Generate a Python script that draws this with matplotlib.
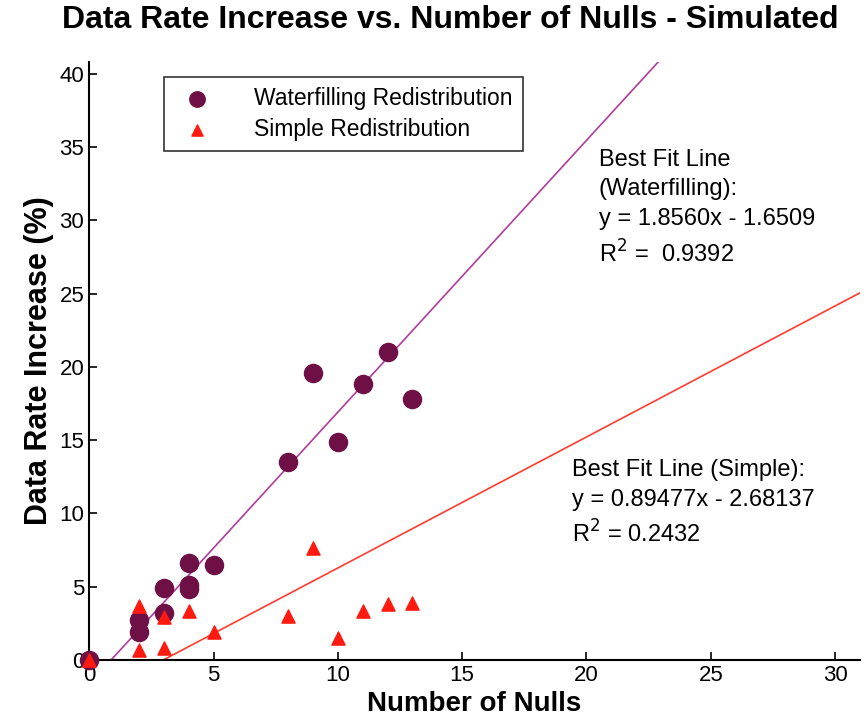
import numpy as np
import matplotlib.pyplot as plt

plt.rcParams['font.family'] = ['Liberation Sans', 'DejaVu Sans']

# Waterfilling redistribution (circles)
wf_nulls = [0, 2, 2, 3, 3, 4, 4, 4, 5, 8, 9, 10, 11, 12, 13]
wf_rate = [0.0, 2.7, 1.9, 4.9, 3.2, 6.6, 5.1, 4.8, 6.5, 13.5, 19.6, 14.9, 18.8, 21.0, 17.8]

# Simple redistribution (triangles)
simple_nulls = [0, 2, 2, 3, 3, 4, 5, 8, 9, 10, 11, 12, 13]
simple_rate = [0.0, 3.7, 0.7, 2.9, 0.8, 3.3, 1.9, 3.0, 7.6, 1.5, 3.3, 3.8, 3.9]

# best fit coefficients (slope, intercept)
wf_fit = (1.8560, -1.6509)
simple_fit = (0.89477, -2.68137)

xticks = [0, 5, 10, 15, 20, 25, 30]
yticks = [0, 5, 10, 15, 20, 25, 30, 35, 40]

fig = plt.figure(figsize=(8.66, 7.25), dpi=100)
ax = fig.add_axes([0.103, 0.09, 0.890, 0.824])

xx = np.linspace(0, 31, 200)
ax.plot(xx, wf_fit[0] * xx + wf_fit[1], color='#b23c9c', lw=1.2, zorder=2)
ax.plot(xx, simple_fit[0] * xx + simple_fit[1], color='#ff3b30', lw=1.2, zorder=2)

ax.scatter(wf_nulls, wf_rate, s=170, color='#6e0f45', marker='o',
           label='Waterfilling Redistribution', zorder=3, clip_on=False)
ax.scatter(simple_nulls, simple_rate, s=90, color='#ff1a10', marker='^',
           label='Simple Redistribution', zorder=4, clip_on=False)

ax.set_xlim(0, 31)
ax.set_ylim(0, 40.8)
ax.set_xticks(xticks)
ax.set_yticks(yticks)
ax.tick_params(direction='in', labelsize=16, length=6, width=1.2)
for side in ['top', 'right']:
    ax.spines[side].set_visible(False)
for side in ['left', 'bottom']:
    ax.spines[side].set_linewidth(1.5)

ax.set_xlabel('Number of Nulls', fontsize=20, fontweight='bold', labelpad=4)
ax.set_ylabel('Data Rate Increase (%)', fontsize=22, fontweight='bold', labelpad=4)
fig.suptitle('Data Rate Increase vs. Number of Nulls - Simulated',
             fontsize=23, fontweight='bold', x=0.52, y=0.993)

leg = ax.legend(loc='upper left', bbox_to_anchor=(0.082, 0.995), fontsize=16.5,
                frameon=True, fancybox=False, edgecolor='black',
                handletextpad=1.5, borderpad=0.45, labelspacing=0.35, markerscale=0.85)
leg.get_frame().set_linewidth(1.2)

ax.text(20.5, 34.9, 'Best Fit Line\n(Waterfilling):\ny = 1.8560x - 1.6509\nR$^2$ =  0.9392',
        fontsize=17, va='top', ha='left', linespacing=1.45)
ax.text(19.4, 13.7, 'Best Fit Line (Simple):\ny = 0.89477x - 2.68137\nR$^2$ = 0.2432',
        fontsize=17, va='top', ha='left', linespacing=1.45)

fig.savefig('out.png', dpi=100)
